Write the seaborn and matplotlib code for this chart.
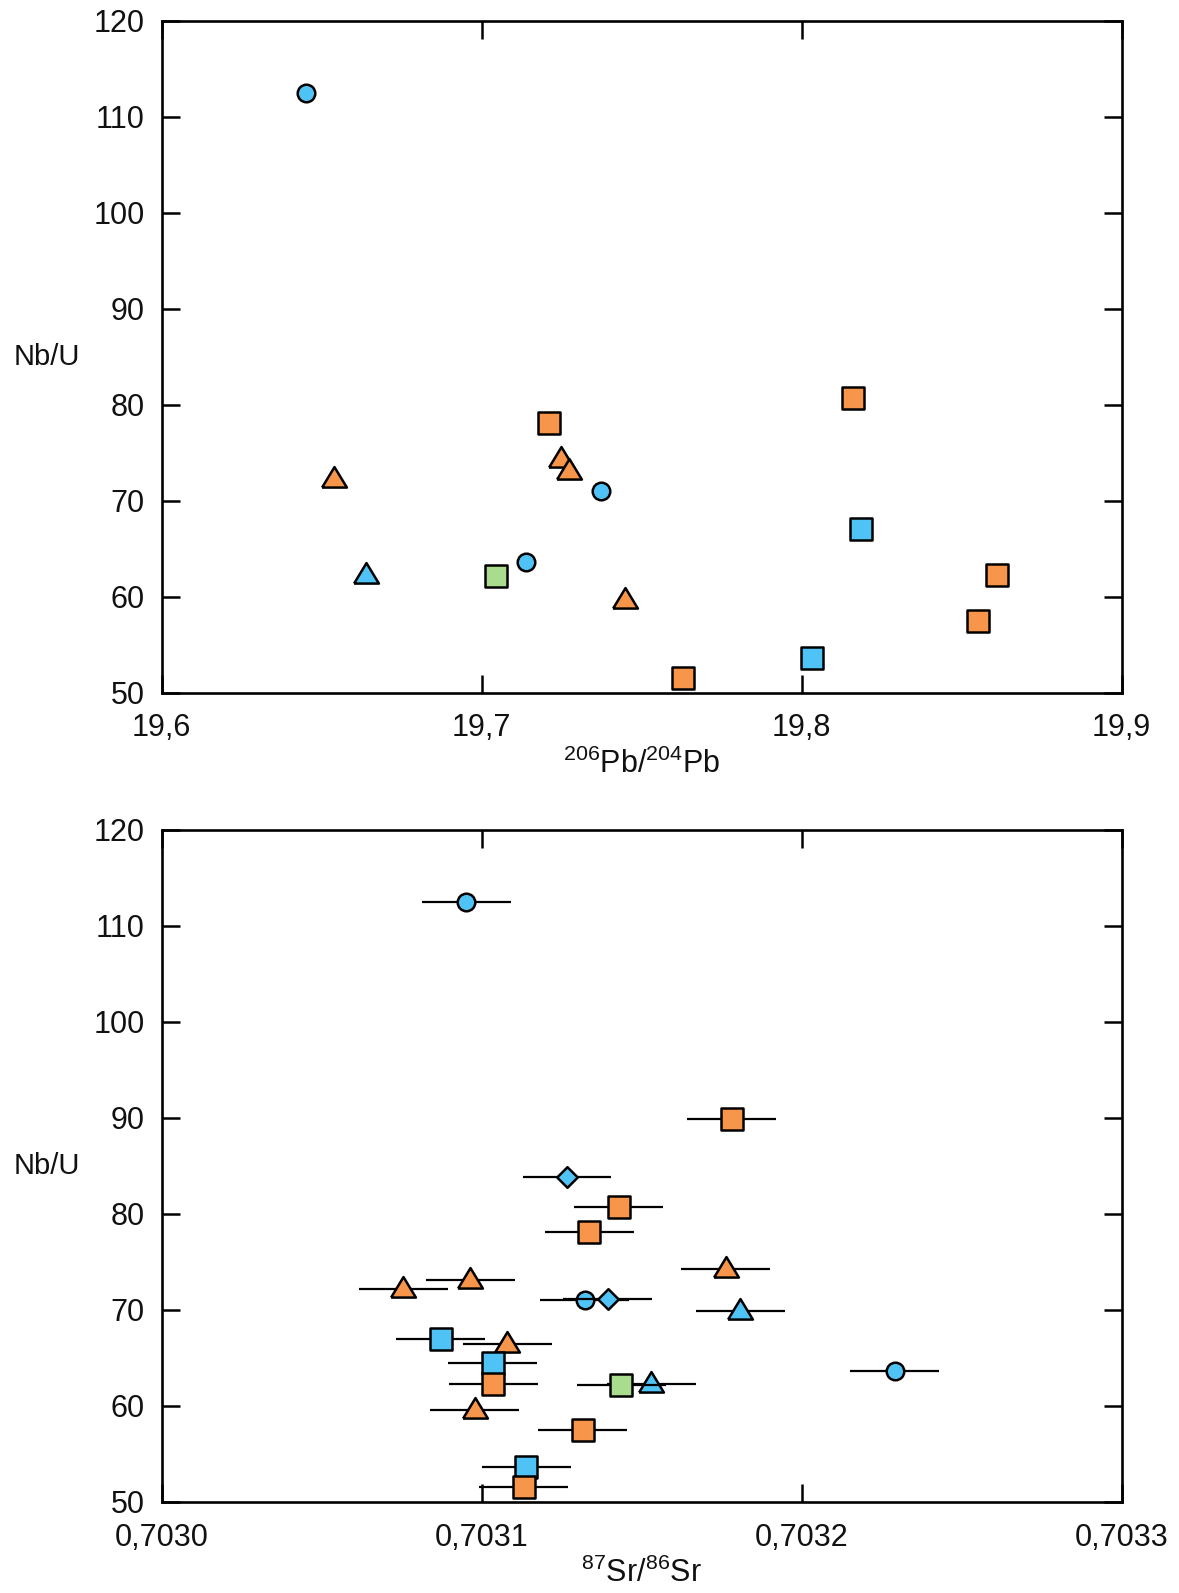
import numpy as np
import pandas as pd
import seaborn as sns
import matplotlib.pyplot as plt

# top panel: Nb/U vs 206Pb/204Pb
pb_x = [19.6451, 19.6539, 19.6638, 19.7044, 19.7139, 19.7212, 19.7248, 19.7273,
        19.7373, 19.7449, 19.7631, 19.8033, 19.8161, 19.8187, 19.8551, 19.8610]
pb_y = [112.5, 72.3, 62.3, 62.2, 63.6, 78.1, 74.3, 73.1,
        71.0, 59.6, 51.5, 53.65, 80.7, 67.0, 57.5, 62.3]
pb_col = ['blue', 'orange', 'blue', 'green', 'blue', 'orange', 'orange', 'orange',
          'blue', 'orange', 'orange', 'blue', 'orange', 'blue', 'orange', 'orange']
pb_shape = ['circle', 'triangle', 'triangle', 'square', 'circle', 'square', 'triangle', 'triangle',
            'circle', 'triangle', 'square', 'square', 'square', 'square', 'square', 'square']

# bottom panel: Nb/U vs 87Sr/86Sr (with 2 sigma error)
sr_x = [0.7030952, 0.7031782, 0.7031267, 0.7031429, 0.7031336, 0.7031763, 0.7030756, 0.7030964,
        0.7031323, 0.7031395, 0.7031808, 0.7030873, 0.7031081, 0.7031035, 0.7031037, 0.7031530,
        0.7031437, 0.7030978, 0.7031316, 0.7031139, 0.7031132, 0.7032291]
sr_y = [112.5, 89.9, 83.85, 80.7, 78.1, 74.25, 72.2, 73.1,
        71.0, 71.1, 69.9, 67.0, 66.4, 64.5, 62.3, 62.3,
        62.2, 59.55, 57.5, 53.65, 51.5, 63.6]
sr_col = ['blue', 'orange', 'blue', 'orange', 'orange', 'orange', 'orange', 'orange',
          'blue', 'blue', 'blue', 'blue', 'orange', 'blue', 'orange', 'blue',
          'green', 'orange', 'orange', 'blue', 'orange', 'blue']
sr_shape = ['circle', 'square', 'diamond', 'square', 'square', 'triangle', 'triangle', 'triangle',
            'circle', 'diamond', 'triangle', 'square', 'triangle', 'square', 'square', 'triangle',
            'square', 'triangle', 'square', 'square', 'square', 'circle']
SR_ERR = 0.0000139

pb_ticks = [19.6, 19.7, 19.8, 19.9]
pb_labels = ['19,6', '19,7', '19,8', '19,9']
sr_ticks = [0.7030, 0.7031, 0.7032, 0.7033]
sr_labels = ['0,7030', '0,7031', '0,7032', '0,7033']
nbu_ticks = [50, 60, 70, 80, 90, 100, 110, 120]

COLORS = {'blue': '#4FC3F5', 'orange': '#F7964A', 'green': '#A9DC8C'}
tri = [(-1, -0.65), (1, -0.65), (0, 1.0), (-1, -0.65)]
MARKERS = {'circle': 'o', 'square': 's', 'triangle': tri, 'diamond': 'D'}
SIZES = {'circle': 160, 'square': 230, 'triangle': 320, 'diamond': 110}

sns.set_style('white')
plt.rcParams['font.family'] = ['Liberation Sans', 'DejaVu Sans']
plt.rcParams['mathtext.fontset'] = 'custom'
plt.rcParams['mathtext.rm'] = 'Liberation Sans'

fig = plt.figure(figsize=(11.79, 15.93), dpi=100)
ax1 = fig.add_axes([0.137, 0.5652, 0.8143, 0.4218])
ax2 = fig.add_axes([0.137, 0.0573, 0.8143, 0.4218])

#top panel
for i in range(len(pb_x)):
    sns.scatterplot(x=[pb_x[i]], y=[pb_y[i]], marker=MARKERS[pb_shape[i]], s=SIZES[pb_shape[i]],
                    color=COLORS[pb_col[i]], edgecolor='black', linewidth=1.8,
                    zorder=4 + i, ax=ax1, legend=False)

#bottom panel, bar then marker so later bars overlap earlier markers
for i in range(len(sr_x)):
    ax2.errorbar(sr_x[i], sr_y[i], xerr=SR_ERR, fmt='none', ecolor='black',
                 elinewidth=1.6, capsize=0, zorder=3 + 2 * i)
    sns.scatterplot(x=[sr_x[i]], y=[sr_y[i]], marker=MARKERS[sr_shape[i]], s=SIZES[sr_shape[i]],
                    color=COLORS[sr_col[i]], edgecolor='black', linewidth=1.8,
                    zorder=4 + 2 * i, ax=ax2, legend=False)

for ax, ticks, labels, xlab in [(ax1, pb_ticks, pb_labels, r'$^{\mathregular{206}}$Pb/$^{\mathregular{204}}$Pb'),
                                (ax2, sr_ticks, sr_labels, r'$^{\mathregular{87}}$Sr/$^{\mathregular{86}}$Sr')]:
    ax.set_xlim(ticks[0], ticks[-1])
    ax.set_ylim(50, 120)
    ax.set_xticks(ticks)
    ax.set_xticklabels(labels)
    ax.set_yticks(nbu_ticks)
    ax.set_yticklabels([str(t) for t in nbu_ticks])
    ax.tick_params(axis='both', direction='in', length=13, width=1.8, color='black',
                   top=True, right=True, bottom=True, left=True, labelsize=22, labelcolor='#111111')
    ax.tick_params(axis='x', pad=15)
    ax.tick_params(axis='y', pad=12)
    for sp in ax.spines.values():
        sp.set_color('black')
        sp.set_linewidth(1.9)
    ax.set_xlabel(xlab, fontsize=22, labelpad=4, color='#111111')
    ax.set_ylabel('Nb/U', fontsize=21, rotation=0, ha='left', va='center', color='#111111')
    ax.yaxis.set_label_coords(-0.1544, 0.5)
    ax.grid(False)

fig.savefig('out.png', dpi=100, facecolor='white')
